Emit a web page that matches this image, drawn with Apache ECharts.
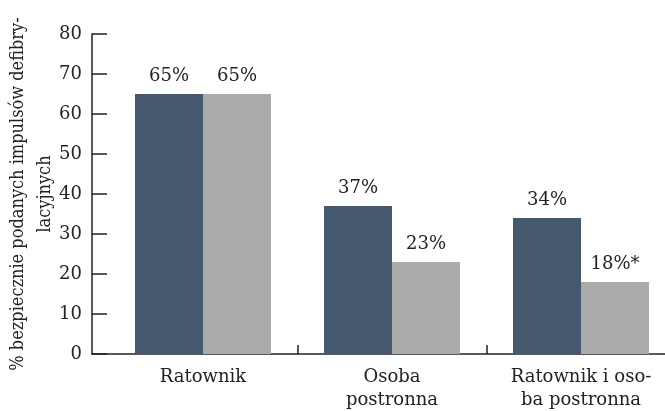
<!DOCTYPE html>
<html>
<head>
<meta charset="utf-8">
<script src="https://cdn.jsdelivr.net/npm/echarts@6/dist/echarts.min.js"></script>
<style>
  html, body { margin: 0; padding: 0; background: #fff; }
  #chart { width: 665px; height: 411px; }
</style>
</head>
<body>
<div id="chart"></div>
<script>
const categories = ['Ratownik', 'Osoba\npostronna', 'Ratownik i oso-\nba postronna'];
const darkValues = [65, 37, 34];
const grayValues = [65, 23, 18];
const darkLabels = ['65%', '37%', '34%'];
const grayLabels = ['65%', '23%', '18%*'];
const yTitle = '% bezpiecznie podanych impulsów defibry-\nlacyjnych';

const FONT = 'DejaVu Serif';
const INK = '#222';

const chart = echarts.init(document.getElementById('chart'));

const barLabel = (labels) => ({
  show: true,
  position: 'top',
  distance: 9,
  fontFamily: FONT,
  fontSize: 18,
  color: INK,
  formatter: (p) => labels[p.dataIndex],
});

chart.setOption({
  animation: false,
  grid: [
    // bars sit on their own category grid, shifted right of the y axis
    { left: 108.5, right: -10.5, top: 34, height: 320, outerBoundsMode: 'none', containLabel: false },
    // frame grid carrying the visible axis lines
    { left: 92, right: 0, top: 34, height: 320, outerBoundsMode: 'none', containLabel: false },
  ],
  xAxis: [
    {
      gridIndex: 0,
      type: 'category',
      data: categories,
      axisLine: { show: false },
      axisTick: {
        show: true,
        inside: true,
        length: 9,
        interval: (i) => i > 0,
        lineStyle: { color: INK, width: 1.5 },
      },
      axisLabel: {
        interval: 0,
        margin: 12,
        fontFamily: FONT,
        fontSize: 18,
        lineHeight: 23,
        color: INK,
      },
    },
    {
      gridIndex: 1,
      type: 'value',
      min: 0,
      max: 1,
      axisLine: { show: true, lineStyle: { color: INK, width: 1.5 } },
      axisTick: { show: false },
      axisLabel: { show: false },
      splitLine: { show: false },
    },
  ],
  yAxis: [
    { gridIndex: 0, type: 'value', min: 0, max: 80, show: false },
    {
      gridIndex: 1,
      type: 'value',
      min: 0,
      max: 80,
      interval: 10,
      axisLine: { show: true, lineStyle: { color: INK, width: 1.5 } },
      axisTick: { show: true, inside: true, length: 15, lineStyle: { color: INK, width: 1.5 } },
      axisLabel: { margin: 10, fontFamily: FONT, fontSize: 18, color: INK },
      splitLine: { show: false },
      name: yTitle,
      nameLocation: 'middle',
      nameRotate: 90,
      nameGap: 33,
      nameMoveOverlap: false,
      nameTextStyle: {
        fontFamily: '"DejaVu Serif Condensed", "Liberation Serif", serif',
        fontSize: 18,
        lineHeight: 27,
        color: INK,
        align: 'center',
      },
    },
  ],
  series: [
    {
      type: 'bar',
      xAxisIndex: 0,
      yAxisIndex: 0,
      data: darkValues,
      barWidth: 68,
      barGap: '0%',
      itemStyle: { color: '#44596e' },
      label: barLabel(darkLabels),
    },
    {
      type: 'bar',
      xAxisIndex: 0,
      yAxisIndex: 0,
      data: grayValues,
      barWidth: 68,
      barGap: '0%',
      itemStyle: { color: '#a9aaa9' },
      label: barLabel(grayLabels),
    },
  ],
});
</script>
</body>
</html>
